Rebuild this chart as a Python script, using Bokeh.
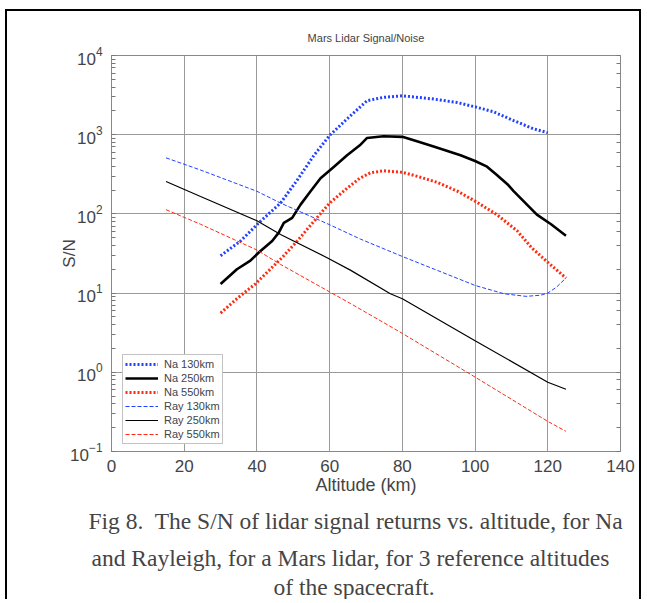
from bokeh.plotting import figure
from bokeh.models import LogAxis, FixedTicker, Legend, LegendItem, Title
from bokeh.embed import file_html
from bokeh.resources import INLINE

# ---------------- data ----------------
na130_x = [30, 35.5, 40.5, 46.5, 51.1, 55.7, 60, 64.8, 70.3, 74.8, 80, 88.6, 95, 100, 105, 110.6, 116, 120]
na130_y = [29.6, 45.5, 77, 137, 268, 550, 980, 1585, 2690, 2960, 3100, 2820, 2550, 2250, 1950, 1510, 1190, 1060]

na250_x = [30, 34.5, 38.2, 40.5, 44.2, 46, 47.4, 49.7, 52, 54.7, 57.5, 61.2, 64.8, 68.3, 70.3, 74.8, 80,
           83.8, 88.6, 96, 100, 103.3, 106, 108.9, 110.6, 117, 120.9, 125]
na250_y = [13, 20, 25.7, 32.5, 45.5, 58, 77, 89, 131, 192, 282, 395, 550, 735, 910, 955, 940,
           830, 710, 550, 465, 395, 310, 237, 194, 98, 74, 53]

na550_x = [30, 34.5, 39.6, 42.8, 46.9, 51.1, 55.7, 60, 64.8, 68.3, 71.2, 74.8, 80, 84.5, 89.6, 95,
           100, 106, 111.6, 115.5, 120, 125]
na550_y = [5.6, 8.5, 13.1, 18.3, 28, 45.5, 81, 137, 211, 282, 330, 350, 335, 295, 250, 195,
           145, 98, 61, 37.6, 24.5, 15.5]

ray130_x = [15, 24.5, 40, 46.5, 60, 68.5, 80, 100, 108, 114, 118, 120, 122.4, 125]
ray130_y = [510, 358, 193, 137, 73, 48, 29, 12.5, 9.8, 9.1, 9.4, 10, 11.9, 15.5]

ray250_x = [15, 24.5, 40, 46.5, 59.3, 65.7, 76.7, 80, 100, 120, 125]
ray250_y = [257, 166, 82, 55, 28, 19.5, 9.8, 8.5, 2.5, 0.75, 0.61]

ray550_x = [15, 24.5, 40, 46.5, 65.7, 80, 100, 120, 125]
ray550_y = [113, 74, 35, 23, 7.4, 3.1, 0.87, 0.24, 0.18]

x_ticks = [0, 20, 40, 60, 80, 100, 120, 140]

title_text = "Mars Lidar Signal/Noise"
x_label = "Altitude (km)"
y_label = "S/N"
caption_lines = [
    "Fig 8.\u00a0 The S/N of lidar signal returns vs. altitude, for Na",
    "and Rayleigh, for a Mars lidar, for 3 reference altitudes",
    "of the spacecraft.",
]

BLUE = "#2242ff"
RED = "#ff2a10"
GRID = "#9a9a9a"
SANS = "Liberation Sans"

p = figure(width=636, height=590, x_range=(0, 140), y_range=(0.1, 1e4), y_axis_type="log",
           output_backend="svg", toolbar_location=None,
           min_border_left=104, min_border_right=23, min_border_top=44, min_border_bottom=146)
p.styles = {"border-top": "2px solid black", "border-left": "2px solid black",
            "border-right": "2px solid black", "margin-left": "5px", "margin-top": "9px"}

p.title.text = title_text
p.title.align = "center"
p.title.text_font = SANS
p.title.text_font_size = "11px"
p.title.text_font_style = "normal"
p.title.standoff = 24

p.outline_line_color = "#888888"
p.outline_line_width = 1

# x axis
xa = p.xaxis[0]
xa.ticker = FixedTicker(ticks=x_ticks, minor_ticks=[])
xa.axis_label = x_label
xa.axis_label_text_font = SANS
xa.axis_label_text_font_size = "18px"
xa.axis_label_text_font_style = "normal"
xa.axis_label_standoff = 0
xa.major_label_text_font = SANS
xa.major_label_text_font_size = "17px"
xa.major_label_standoff = 8
xa.major_tick_in = 0
xa.major_tick_out = 0
xa.minor_tick_in = 0
xa.minor_tick_out = 0
xa.axis_line_color = None

# y axis
ya = p.yaxis[0]
ya.axis_label = y_label
ya.axis_label_text_font = SANS
ya.axis_label_text_font_size = "17px"
ya.axis_label_text_font_style = "normal"
ya.axis_label_standoff = -12
ya.major_label_text_font = SANS
ya.major_label_text_font_size = "17px"
ya.major_label_standoff = 9
ya.major_tick_in = 0
ya.major_tick_out = 0
ya.minor_tick_in = 4
ya.minor_tick_out = 0
ya.minor_tick_line_color = "#777777"
ya.axis_line_color = None

ra = LogAxis(major_label_text_font_size="1px", major_label_text_alpha=0,
             major_tick_in=0, major_tick_out=0,
             minor_tick_in=4, minor_tick_out=0, minor_tick_line_color="#777777",
             axis_line_color=None, major_label_standoff=0)
p.add_layout(ra, "right")

p.xgrid.ticker = FixedTicker(ticks=x_ticks)
p.xgrid.grid_line_color = GRID
p.ygrid.grid_line_color = GRID

r1 = p.line(na130_x, na130_y, line_color=BLUE, line_width=3, line_dash="2 2")
r2 = p.line(na250_x, na250_y, line_color="black", line_width=2.6)
r3 = p.line(na550_x, na550_y, line_color=RED, line_width=3, line_dash="2 2")
r4 = p.line(ray130_x, ray130_y, line_color=BLUE, line_width=1, line_dash="4 2")
r5 = p.line(ray250_x, ray250_y, line_color="black", line_width=1.2)
r6 = p.line(ray550_x, ray550_y, line_color=RED, line_width=1, line_dash="4 2")

legend = Legend(items=[LegendItem(label="Na 130km", renderers=[r1]),
                       LegendItem(label="Na 250km", renderers=[r2]),
                       LegendItem(label="Na 550km", renderers=[r3]),
                       LegendItem(label="Ray 130km", renderers=[r4]),
                       LegendItem(label="Ray 250km", renderers=[r5]),
                       LegendItem(label="Ray 550km", renderers=[r6])],
                location=(11, 7), margin=0, padding=2, spacing=0,
                glyph_width=33, glyph_height=14, label_height=14, label_standoff=6,
                label_text_font=SANS, label_text_font_size="11px",
                border_line_color="#888888", border_line_width=1,
                background_fill_alpha=1)
p.add_layout(legend)

caption_offsets = [-23, -20, 162]
caption_standoffs = [17, 0, 3]
for line, off, so in zip(caption_lines, caption_offsets, caption_standoffs):
    p.add_layout(Title(text=line, align="left", offset=off, standoff=so,
                       text_font="Liberation Serif", text_font_size="23.5px",
                       text_font_style="normal"), "below")

open("out.html", "w").write(file_html(p, INLINE))
